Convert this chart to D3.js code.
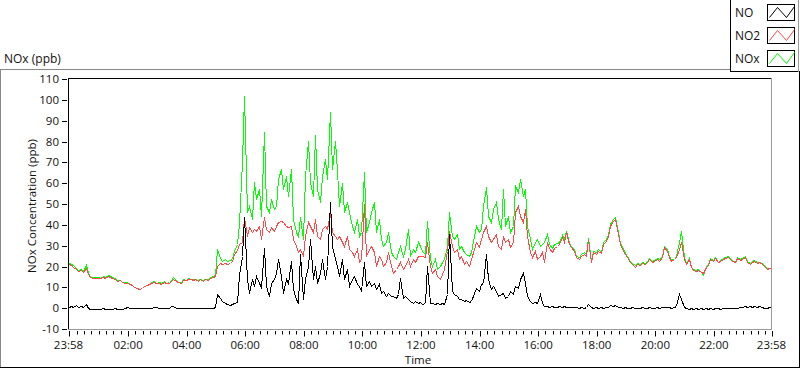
<!DOCTYPE html>
<html>
<head>
<meta charset="utf-8">
<script src="https://cdn.jsdelivr.net/npm/d3@7"></script>
<style>
    body { margin: 0; background: #fff; }
    svg { display: block; }
    text { font-family: "Open Sans", "Liberation Sans", sans-serif; fill: #111; }
</style>
</head>
<body>
<svg></svg>
<script>
    // samples every 5 minutes, starting at 23:58
    var stepMin = 5;

    var no = [
        0.5, 1.1, 0.8, 1.3, 0.6, 1, 0.8, 1.9, 0.2, -0.3,
        -0.2, -0.3, -0.2, -0.3, -0.1, -0.3, -0.2, -0.3, -0.2, -0.1,
        -0.3, -0.2, -0.3, 0, 0.8, 0.1, 0, 0.2, 0, 0.1,
        0, 0.2, 0.1, 0, 0.2, 0.5, 0.8, 0.3, 0, 0.1,
        0, 0.1, 1.1, 0.9, 0.1, 0, 0.2, 0, -0.1, 0.1,
        0, 0.2, 0, 0.1, 0, 0.2, 0, 0.1, 0.3, 0.2,
        0.4, 6.7, 5.1, 3.5, 2.4, 1.9, 1.4, 1.9, 2.7, 3,
        16, 25, 44, 14, 7.5, 14, 10.7, 15.5, 12.3, 10,
        29, 10.7, 6, 12.3, 14, 17, 23.5, 15.5, 7.5, 14,
        12.3, 22.8, 9, 4.3, 2.7, 26, 4.3, 14, 20.4, 33.2,
        14, 20.4, 12.3, 17, 23.5, 14, 20.4, 50.8, 30, 23.5,
        20.4, 15.5, 23.5, 14, 18.7, 10.7, 14, 15.5, 11.5, 10.7,
        8.3, 22, 10.7, 13.1, 10.7, 12.3, 9.1, 11.5, 7.5, 8.3,
        5.9, 7.5, 5.9, 5.9, 5.1, 6.7, 14.7, 5.1, 5.9, 4.3,
        3.5, 2.7, 3.5, 2.4, 3, 1.9, 2.4, 20.4, 2.7, 2.4,
        1.9, 2.7, 1.9, 2.7, 2.2, 6.7, 35.6, 8.3, 6.7, 5.9,
        4.3, 4.6, 3.5, 4, 3, 3.5, 7.5, 9.9, 8.3, 11.5,
        12.3, 26, 13.9, 9.1, 10.7, 8.3, 5.9, 6.7, 7.5, 5.1,
        5.9, 8.3, 6.7, 10.7, 9.9, 13.9, 17.1, 12.3, 5.9, 3.5,
        2.7, 3, 2.4, 6.7, 2.7, 1.1, 1.1, 0.8, 1.1, 0.6,
        0.8, 1.1, 0.6, 1.1, 0.8, 0.5, 0.7, 0.4, 0.6, 0.3,
        0.5, 0.3, 0.6, 1.9, 0.4, 0.3, 0.5, 0.2, 0.4, 0.3,
        0.5, 0.8, 1.6, 1.2, 1.6, 0.7, 0.4, 0.3, 0.5, 0.2,
        0.3, 0.5, 0.2, 0.3, 0.1, 0.4, 0.2, 0.3, 0.5, 0.2,
        0.3, 0.4, 0.2, 0.5, 0.8, 0.6, 0.4, 0.2, 0.6, 1.2,
        6.7, 4.3, 0.8, 0.1, -0.2, 0, -0.3, -0.1, -0.2, 0,
        -0.3, -0.1, -0.2, 0, -0.2, -0.1, 0, -0.2, 0, -0.1,
        0, 0.1, 0, 0.2, 0.1, 0.8, 0.4, 1.1, 0.6, 0.9,
        0.5, 1.1, 0.7, 0.9, 0.4, 0.3, 0.2, 0.4, 0.3
    ];

    var no2 = [
        21, 20.5, 19.9, 19, 17.8, 18.3, 17.3, 19.4, 16.2, 14.9,
        14.6, 14.4, 14.7, 14.3, 15, 14.7, 15.4, 15.2, 14.4, 14.1,
        13, 13.3, 12.5, 12.2, 11.9, 11.4, 10.9, 10.3, 9.8, 9.3,
        9.8, 10.6, 10.9, 11.4, 12.2, 12.5, 11.9, 12.2, 11.7, 12.5,
        11.9, 12.2, 13, 14.1, 13, 12.5, 12.2, 13.5, 13.3, 14.1,
        13.8, 13.5, 13.8, 13, 13.8, 13, 13.8, 13.5, 14.6, 15,
        15.4, 20.2, 21.8, 21, 21.8, 21.3, 21.8, 22.6, 26, 28,
        31, 32, 44, 34.8, 38.8, 36.4, 38, 37.2, 39.6, 33.2,
        43.6, 38, 36.4, 38.8, 37.2, 39.6, 41.2, 42, 41.2, 39.6,
        38.8, 39.6, 33.2, 30, 26.8, 28.4, 25.2, 34.8, 41.2, 39.6,
        36.4, 42.8, 34.8, 33.2, 38, 39.6, 38, 46, 36.4, 34.8,
        33.2, 34.8, 31.6, 30, 34.8, 28.4, 26.8, 25.2, 28.4, 22,
        23.5, 50, 25.2, 28.4, 30, 26.8, 20.4, 25.2, 23.5, 20.4,
        22, 26.8, 20.4, 17.1, 18.7, 20.4, 22, 18.7, 20.4, 23.5,
        20.4, 23.5, 22, 25.2, 25, 25.2, 24.4, 31.6, 20.4, 17.1,
        18.7, 15.5, 13.9, 16.3, 18.7, 27.6, 37.2, 30, 26.8, 28.4,
        23.5, 25.2, 21.2, 22.8, 20.4, 23.5, 28.4, 31.6, 29.2, 33.2,
        36.4, 39.6, 34.8, 31.6, 33.2, 35.6, 30, 28.4, 34.8, 31.6,
        33.2, 29.2, 31.6, 46, 49.2, 44.4, 41.2, 47.6, 34.8, 26.8,
        24.4, 27.6, 23.5, 25.2, 26.8, 22, 31.6, 29, 27, 29,
        30, 31, 34, 32, 36.5, 30.8, 29.2, 27.6, 24.4, 23.6,
        25.2, 26, 25.2, 32.9, 22, 26.8, 26, 27.6, 26.4, 30.8,
        32.4, 34.8, 39.6, 42, 43, 35.6, 30.8, 27.6, 26, 24.4,
        22, 21.2, 20, 21.2, 20.7, 21.6, 21.2, 22.3, 23.6, 22,
        22.8, 23.6, 22.8, 24.4, 29.2, 27.6, 24.4, 22.8, 23.6, 24.4,
        28.4, 31.6, 23.6, 21.2, 23.6, 19.6, 18.4, 18, 18.4, 17.5,
        16.8, 20, 20.7, 23.6, 22.8, 23.9, 22, 22.8, 23.6, 23.9,
        24.4, 23.6, 22.8, 22, 23.9, 23.2, 23.6, 24.4, 22.3, 21.2,
        22, 22.8, 21.6, 22, 21.2, 20.4, 18.7, 19.1, 18.7
    ];

    var nox = [
        21.5, 21, 20.5, 19.5, 18.3, 18.8, 17.8, 20.8, 16.7, 15.2,
        15, 14.8, 15.2, 14.6, 15.5, 15, 15.8, 15.6, 14.8, 14.4,
        13.4, 13.7, 12.8, 12.5, 12.7, 11.7, 11.2, 10.4, 9.6, 9,
        9.6, 10.8, 11.2, 11.8, 12.6, 13, 12.2, 12.5, 12, 13,
        12.2, 12.5, 13.6, 14.9, 13.4, 12.8, 12.5, 14, 13.6, 14.5,
        14.2, 13.8, 14.2, 13.3, 14.2, 13.4, 14.2, 13.8, 15, 15.5,
        16, 28.4, 24.2, 22.6, 23.4, 22.6, 23, 23.7, 27.4, 30.6,
        41, 70, 102, 46, 49, 42.8, 60.4, 52.4, 57.2, 44.4,
        84.5, 49.2, 46, 52.4, 47.6, 49.2, 62, 66.8, 57.2, 63.6,
        54, 66.8, 42.8, 36.4, 34.8, 44, 33.2, 63.6, 80.4, 60.4,
        54, 82.9, 57.2, 50.8, 63.6, 71.6, 62, 94, 66.8, 80.4,
        66, 49.2, 60, 46, 50.8, 46, 39.6, 36.4, 42.8, 34.8,
        36.4, 65.2, 36.4, 41.2, 46, 50.8, 36.4, 42.8, 33.2, 30,
        31.6, 36.4, 26.8, 25.2, 23.5, 26.8, 30, 25.2, 28.4, 38,
        25.2, 28.4, 26.8, 31.6, 30, 27.6, 26, 42, 23.5, 20.4,
        23.5, 18.7, 20.4, 22, 23.5, 30, 46, 34.8, 33.2, 35.6,
        28.4, 30, 26.8, 26, 25.2, 26.8, 34.8, 39.6, 36.4, 38,
        49.2, 58, 44.4, 41.2, 47.6, 50.8, 42.8, 38, 57.2, 39.6,
        44.4, 36.4, 39.6, 58.8, 55.6, 62, 54, 57.2, 39.6, 33.2,
        28.4, 31.6, 33.2, 30, 30.8, 31.6, 35.6, 31, 29, 31,
        31.5, 32, 35, 33, 37, 31.5, 30, 28.5, 25, 24.5,
        26, 27, 26, 33.5, 22.5, 27.5, 26.8, 28.3, 27.2, 31.6,
        33, 35.5, 40.5, 43, 44, 36.5, 31.5, 28.2, 26.6, 25,
        22.6, 21.8, 20.5, 21.8, 21.2, 22.2, 21.8, 22.8, 24.2, 22.5,
        23.3, 24.2, 23.4, 25, 30, 28.2, 25, 23.3, 24.1, 25,
        31.6, 36.9, 24.4, 21.8, 24.2, 20, 18.8, 18.3, 18.6, 17.2,
        15.8, 20.3, 21, 24.2, 23.3, 24.4, 22.4, 23.2, 24.1, 24.4,
        25, 24.1, 23.3, 22.4, 24.4, 23.6, 24.2, 25, 22.8, 21.6,
        22.5, 23.3, 22, 22.4, 21.6, 20.8, 19.2, 19.5, 19
    ];

    var seriesNames = ["NO", "NO2", "NOx"];
    var seriesColors = ["#000000", "#ff4848", "#00ff00"];
    var yTicks = [-10, 0, 10, 20, 30, 40, 50, 60, 70, 80, 90, 100, 110];
    var xTickLabels = ["23:58", "02:00", "04:00", "06:00", "08:00", "10:00", "12:00",
                       "14:00", "16:00", "18:00", "20:00", "22:00", "23:58"];

    var width = 800, height = 369;
    var plot = { left: 68.5, right: 771.5, top: 79, bottom: 329 };

    var start = new Date(2000, 0, 1, 23, 58);
    var end = d3.timeHour.offset(start, 24);
    var parseHM = d3.timeParse("%Y-%m-%d %H:%M");

    function sampleTime(i) { return d3.timeMinute.offset(start, i * stepMin); }

    var x = d3.scaleTime().domain([start, end]).range([plot.left, plot.right]);
    var y = d3.scaleLinear().domain([-10, 110]).range([plot.bottom, plot.top]);

    var svg = d3.select('svg')
        .attr('width', width)
        .attr('height', height);

    // outer graph border (sunken look)
    svg.append('line').attr('x1', 0).attr('x2', 730).attr('y1', 69.5).attr('y2', 69.5).attr('stroke', '#888');
    svg.append('line').attr('x1', 0.5).attr('x2', 0.5).attr('y1', 69.5).attr('y2', 368).attr('stroke', '#888');
    svg.append('line').attr('x1', 0).attr('x2', 800).attr('y1', 367.5).attr('y2', 367.5).attr('stroke', '#000');
    svg.append('line').attr('x1', 799.5).attr('x2', 799.5).attr('y1', 71).attr('y2', 368).attr('stroke', '#000');

    // title
    svg.append('text').attr('x', 4).attr('y', 63).style('font-size', '12px').text('NOx (ppb)');

    // clip for plot area
    svg.append('clipPath').attr('id', 'clip')
        .append('rect')
        .attr('x', 68).attr('y', 78.5)
        .attr('width', 704).attr('height', 251);

    // lines, NOx first so NO2 and NO sit on top
    var line = d3.line()
        .x(function (d, i) { return Math.round(x(sampleTime(i))) + 0.5; })
        .y(function (d) { return Math.round(y(d)) + 0.5; });

    var g = svg.append('g').attr('clip-path', 'url(#clip)');
    [nox, no2, no].forEach(function (s, k) {
        g.append('path')
            .datum(s)
            .attr('d', line)
            .attr('fill', 'none')
            .attr('stroke', seriesColors[2 - k])
            .attr('stroke-width', 1)
            .style('shape-rendering', 'crispEdges');
    });

    // plot frame: dark top/left, gray bottom/right
    svg.append('line').attr('x1', 68).attr('x2', 772).attr('y1', 78.5).attr('y2', 78.5).attr('stroke', '#000');
    svg.append('line').attr('x1', 68.5).attr('x2', 68.5).attr('y1', 78).attr('y2', 330).attr('stroke', '#000');
    svg.append('line').attr('x1', 68).attr('x2', 772).attr('y1', 329.5).attr('y2', 329.5).attr('stroke', '#999');
    svg.append('line').attr('x1', 771.5).attr('x2', 771.5).attr('y1', 78).attr('y2', 330).attr('stroke', '#999');

    // y axis
    var yAxis = svg.append('g');
    yAxis.selectAll('line').data(yTicks).enter().append('line')
        .attr('x1', 62).attr('x2', 67)
        .attr('y1', function (d) { return Math.round(y(d)) + 0.5; })
        .attr('y2', function (d) { return Math.round(y(d)) + 0.5; })
        .attr('stroke', '#000');
    yAxis.selectAll('text').data(yTicks).enter().append('text')
        .attr('x', 59)
        .attr('y', function (d) { return y(d); })
        .attr('dy', '0.36em')
        .attr('text-anchor', 'end')
        .style('font-size', '11.5px')
        .text(function (d) { return d; });

    svg.append('text')
        .attr('transform', 'translate(36,206) rotate(-90)')
        .attr('text-anchor', 'middle')
        .style('font-size', '11.5px')
        .text('NOx Concentration (ppb)');

    // x axis
    var minorTicks = d3.timeMinute.every(15).range(start, end);
    var majorTicks = xTickLabels.map(function (lab, i) {
        if (i === 0) return start;
        if (i === xTickLabels.length - 1) return end;
        return parseHM("2000-01-02 " + lab);
    });
    var xAxis = svg.append('g');
    xAxis.selectAll('line.minor').data(minorTicks).enter().append('line')
        .attr('class', 'minor')
        .attr('x1', function (d) { return Math.round(x(d)) + 0.5; })
        .attr('x2', function (d) { return Math.round(x(d)) + 0.5; })
        .attr('y1', 331).attr('y2', 334.5)
        .attr('stroke', '#000');
    xAxis.selectAll('line.major').data(majorTicks).enter().append('line')
        .attr('class', 'major')
        .attr('x1', function (d) { return Math.round(x(d)) + 0.5; })
        .attr('x2', function (d) { return Math.round(x(d)) + 0.5; })
        .attr('y1', 331).attr('y2', 336.5)
        .attr('stroke', '#000');
    xAxis.selectAll('text').data(majorTicks).enter().append('text')
        .attr('x', function (d) { return x(d); })
        .attr('y', 349)
        .attr('text-anchor', 'middle')
        .style('font-size', '11.5px')
        .text(function (d, i) { return xTickLabels[i]; });

    svg.append('text')
        .attr('x', 418).attr('y', 364)
        .attr('text-anchor', 'middle')
        .style('font-size', '11.5px')
        .text('Time');

    // legend
    var legend = svg.append('g');
    legend.append('line').attr('x1', 730.5).attr('x2', 730.5).attr('y1', 0).attr('y2', 72).attr('stroke', '#000');
    legend.append('line').attr('x1', 730).attr('x2', 799).attr('y1', 71.5).attr('y2', 71.5).attr('stroke', '#000');
    legend.append('line').attr('x1', 798.5).attr('x2', 798.5).attr('y1', 0).attr('y2', 72).attr('stroke', '#999');

    var zig = [[2, 13], [10, 3], [19, 13], [27, 2]];
    seriesNames.forEach(function (name, k) {
        var top = 4 + k * 23;
        legend.append('text')
            .attr('x', 735).attr('y', top + 13)
            .style('font-size', '12px')
            .text(name);
        legend.append('rect')
            .attr('x', 767.5).attr('y', top + 0.5)
            .attr('width', 27).attr('height', 16)
            .attr('fill', '#fff').attr('stroke', '#000');
        legend.append('path')
            .attr('d', d3.line()(zig.map(function (p) { return [767.5 + p[0], top + 0.5 + p[1]]; })))
            .attr('fill', 'none')
            .attr('stroke', seriesColors[k]);
    });
</script>
</body>
</html>
